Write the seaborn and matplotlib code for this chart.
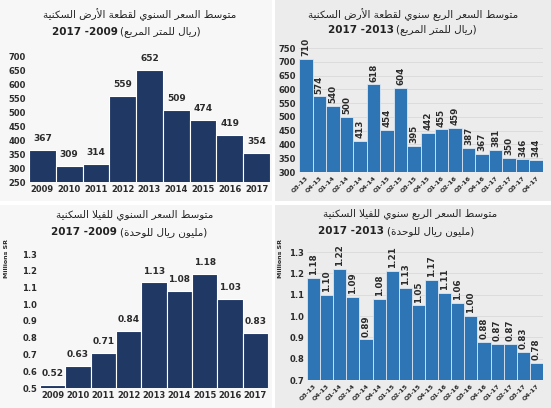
import matplotlib
matplotlib.use('Agg')
import matplotlib.pyplot as plt
from matplotlib.patches import Rectangle
import numpy as np
import seaborn as sns

# data
years = ['2009', '2010', '2011', '2012', '2013', '2014', '2015', '2016', '2017']
quarters = ['Q3-13', 'Q4-13', 'Q1-14', 'Q2-14', 'Q3-14', 'Q4-14', 'Q1-15', 'Q2-15',
            'Q3-15', 'Q4-15', 'Q1-16', 'Q2-16', 'Q3-16', 'Q4-16', 'Q1-17', 'Q2-17',
            'Q3-17', 'Q4-17']
land_year_price = [367, 309, 314, 559, 652, 509, 474, 419, 354]
land_q_price = [710, 574, 540, 500, 413, 618, 454, 604, 395, 442, 455, 459,
                387, 367, 381, 350, 346, 344]
villa_year_price = [0.52, 0.63, 0.71, 0.84, 1.13, 1.08, 1.18, 1.03, 0.83]
villa_q_price = [1.18, 1.10, 1.22, 1.09, 0.89, 1.08, 1.21, 1.13, 1.05, 1.17,
                 1.11, 1.06, 1.00, 0.88, 0.87, 0.87, 0.83, 0.78]

# small arabic shaper (matplotlib has no shaping / bidi)
ISO = {'ا': 0xFE8D, 'أ': 0xFE83, 'ب': 0xFE8F, 'ة': 0xFE93, 'ت': 0xFE95, 'ح': 0xFEA1,
       'د': 0xFEA9, 'ر': 0xFEAD, 'س': 0xFEB1, 'ض': 0xFEBD, 'ط': 0xFEC1, 'ع': 0xFEC9,
       'ف': 0xFED1, 'ق': 0xFED5, 'ك': 0xFED9, 'ل': 0xFEDD, 'م': 0xFEE1, 'ن': 0xFEE5,
       'ه': 0xFEE9, 'و': 0xFEED, 'ي': 0xFEF1, 'LA': 0xFEFB, 'LAH': 0xFEF7}
DUAL = set('بتحسضطعفقكلمنهي')


def ar(s):
    toks = []
    i = 0
    while i < len(s):
        if s[i] == 'ل' and i + 1 < len(s) and s[i + 1] in 'اأ':
            toks.append('LA' if s[i + 1] == 'ا' else 'LAH')
            i += 2
        else:
            toks.append(s[i])
            i += 1
    out = []
    for k, t in enumerate(toks):
        if t not in ISO:
            out.append(t)
            continue
        prev = toks[k - 1] if k > 0 else None
        nxt = toks[k + 1] if k + 1 < len(toks) else None
        jp = prev in DUAL
        jn = t in DUAL and nxt in ISO
        base = ISO[t]
        if jp and jn:
            cp = base + 3
        elif jp:
            cp = base + 1
        elif jn:
            cp = base + 2
        else:
            cp = base
        out.append(chr(cp))
    return ''.join(reversed(out))


sns.set_theme(style='white')
plt.rcParams['font.family'] = ['DejaVu Sans']

navy = '#1f3864'
blue = '#2e75b6'
txt = '#2b2b2b'

fig = plt.figure(figsize=(5.51, 4.08), dpi=100)
W, H = 551, 408


def fx(px):
    return px / W


def fy(py):
    return 1 - py / H


# panel backgrounds
fig.patches.append(Rectangle((0, fy(201)), fx(272), 1 - fy(201), transform=fig.transFigure,
                             facecolor='#f7f7f7', edgecolor='none', zorder=-5))
fig.patches.append(Rectangle((fx(275), fy(201)), 1 - fx(275), 1 - fy(201), transform=fig.transFigure,
                             facecolor='#ececec', edgecolor='none', zorder=-5))
fig.patches.append(Rectangle((0, 0), fx(272), fy(205), transform=fig.transFigure,
                             facecolor='#f7f7f7', edgecolor='none', zorder=-5))
fig.patches.append(Rectangle((fx(275), 0), 1 - fx(275), fy(205), transform=fig.transFigure,
                             facecolor='#ececec', edgecolor='none', zorder=-5))


def make_ax(l, t, r, b):
    ax = fig.add_axes([fx(l), fy(b), fx(r - l), fy(t) - fy(b)])
    ax.set_facecolor('none')
    for s in ax.spines.values():
        s.set_visible(False)
    ax.tick_params(length=0, pad=2)
    return ax


def style_ticks(ax, yticks, yfmt, xsize=6, xrot=0):
    ax.set_yticks(yticks)
    ax.set_yticklabels([yfmt % v for v in yticks], fontsize=6, fontweight='bold', color=txt)
    for lab in ax.get_xticklabels():
        lab.set_fontsize(xsize)
        lab.set_fontweight('bold')
        lab.set_color(txt)
        if xrot:
            lab.set_rotation(xrot)
            lab.set_ha('right')
            lab.set_rotation_mode('anchor')
    ax.set_xlabel('')
    ax.set_ylabel('')


def title(ax, cx, right2, y1, y2, line1, line2_ar, line2_num):
    fig.text(fx(cx), fy(y1), ar(line1), ha='center', va='center', fontsize=7.5, color='#222222')
    t = fig.text(fx(right2), fy(y2), '(' + ar(line2_ar) + ')', ha='right', va='center',
                 fontsize=7.5, color='#222222')
    # numbers sit just left of the arabic part
    ax.annotate(line2_num, xy=(0, 0.5), xycoords=t, xytext=(-2, 0),
                textcoords='offset points', ha='right', va='center',
                fontsize=7.5, fontweight='bold', color='#222222', annotation_clip=False)


# top left: yearly land price
ax1 = make_ax(29, 57, 270, 182)
sns.barplot(x=years, y=land_year_price, color=navy, saturation=1, width=1,
            edgecolor='white', linewidth=0.8, ax=ax1)
ax1.set_ylim(250, 700)
ax1.set_xlim(-0.5, len(years) - 0.5)
style_ticks(ax1, np.arange(250, 701, 50), '%d', xsize=6)
ax1.bar_label(ax1.containers[0], labels=[str(v) for v in land_year_price], padding=5,
              fontsize=6.5, fontweight='bold', color=txt)
title(ax1, 140, 201, 15, 32, 'متوسط السعر السنوي لقطعة الأرض السكنية', 'ريال للمتر المربع', '2017 -2009')

# top right: quarterly land price
ax2 = make_ax(299, 48, 543, 172)
ax2.yaxis.grid(True, color='#d9d9d9', linewidth=0.6)
ax2.set_axisbelow(True)
sns.barplot(x=quarters, y=land_q_price, color=blue, saturation=1, width=1,
            edgecolor='#dbe6f1', linewidth=0.6, ax=ax2)
ax2.set_ylim(300, 750)
ax2.set_xlim(-0.5, len(quarters) - 0.5)
style_ticks(ax2, np.arange(300, 751, 50), '%d', xsize=4.5, xrot=45)
ax2.bar_label(ax2.containers[0], labels=[str(v) for v in land_q_price], padding=2,
              fontsize=6.3, fontweight='bold', color=txt, rotation=90)
title(ax2, 413, 477, 15, 30, 'متوسط السعر الربع سنوي لقطعة الأرض السكنية', 'ريال للمتر المربع', '2017 -2013')

# bottom left: yearly villa price
ax3 = make_ax(40, 254, 268, 388)
sns.barplot(x=years, y=villa_year_price, color=navy, saturation=1, width=1,
            edgecolor='white', linewidth=0.8, ax=ax3)
ax3.set_ylim(0.5, 1.3)
ax3.set_xlim(-0.5, len(years) - 0.5)
style_ticks(ax3, np.round(np.arange(0.5, 1.31, 0.1), 1), '%.1f', xsize=6)
ax3.bar_label(ax3.containers[0], labels=['%.2f' % v for v in villa_year_price], padding=5,
              fontsize=6.5, fontweight='bold', color=txt)
title(ax3, 135, 207, 215, 232, 'متوسط السعر السنوي للفيلا السكنية', 'مليون ريال للوحدة', '2017 -2009')
fig.text(fx(7), fy(259), 'Millions SR', rotation=90, ha='center', va='center',
         fontsize=4.5, fontweight='bold', color=txt)

# bottom right: quarterly villa price
ax4 = make_ax(307, 252, 543, 380)
ax4.yaxis.grid(True, color='#d9d9d9', linewidth=0.6)
ax4.set_axisbelow(True)
sns.barplot(x=quarters, y=villa_q_price, color=blue, saturation=1, width=1,
            edgecolor='#dbe6f1', linewidth=0.6, ax=ax4)
ax4.set_ylim(0.7, 1.3)
ax4.set_xlim(-0.5, len(quarters) - 0.5)
style_ticks(ax4, np.round(np.arange(0.7, 1.31, 0.1), 1), '%.1f', xsize=4.5, xrot=45)
ax4.bar_label(ax4.containers[0], labels=['%.2f' % v for v in villa_q_price], padding=2,
              fontsize=6.3, fontweight='bold', color=txt, rotation=90)
title(ax4, 410, 474, 214, 231, 'متوسط السعر الربع سنوي للفيلا السكنية', 'مليون ريال للوحدة', '2017 -2013')
fig.text(fx(281), fy(259), 'Millions SR', rotation=90, ha='center', va='center',
         fontsize=4.5, fontweight='bold', color=txt)

fig.savefig('out.png', dpi=100)
